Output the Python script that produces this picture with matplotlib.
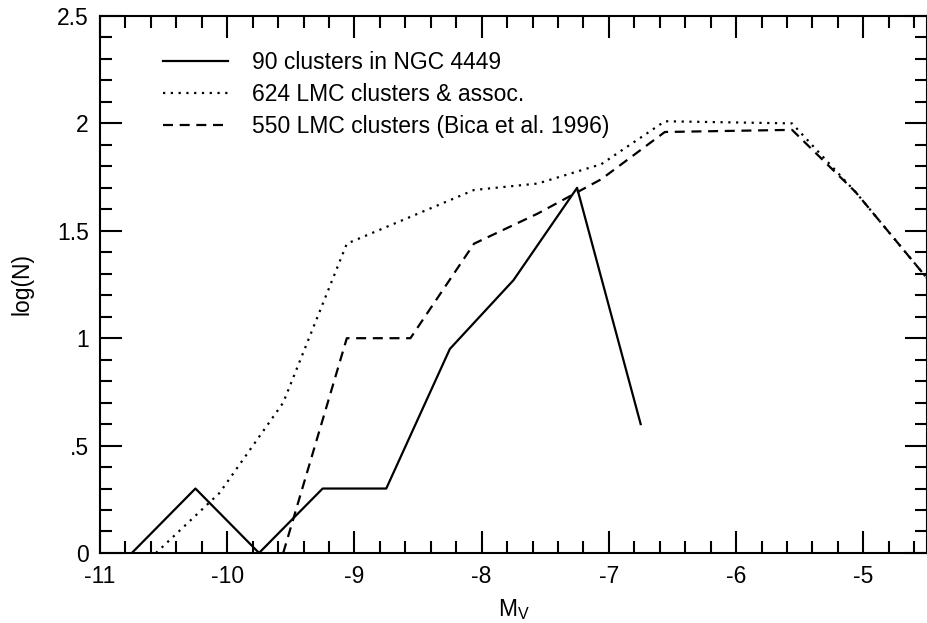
import matplotlib
matplotlib.use("Agg")
import matplotlib.pyplot as plt
from matplotlib.ticker import MultipleLocator, FixedLocator, FixedFormatter

plt.rcParams['font.family'] = ['Liberation Sans', 'DejaVu Sans']
plt.rcParams['mathtext.fontset'] = 'custom'
plt.rcParams['mathtext.rm'] = 'Liberation Sans'
plt.rcParams['axes.unicode_minus'] = False

# 90 clusters in NGC 4449
mv_ngc = [-10.75, -10.25, -9.75, -9.25, -8.75, -8.25, -7.75, -7.25, -6.75]
logn_ngc = [0.0, 0.30, 0.0, 0.30, 0.30, 0.95, 1.27, 1.70, 0.60]

# 624 LMC clusters & assoc.
mv_lmc_all = [-10.56, -10.06, -9.56, -9.06, -8.06, -7.56, -7.06, -6.56, -5.56, -5.06, -4.5]
logn_lmc_all = [0.0, 0.28, 0.70, 1.44, 1.69, 1.72, 1.81, 2.01, 2.0, 1.68, 1.28]

# 550 LMC clusters (Bica et al. 1996)
mv_bica = [-9.56, -9.06, -8.56, -8.06, -7.56, -7.06, -6.56, -5.56, -5.06, -4.5]
logn_bica = [0.0, 1.0, 1.0, 1.44, 1.58, 1.74, 1.96, 1.97, 1.68, 1.28]

fig = plt.figure(figsize=(9.28, 6.23), dpi=100)
ax = fig.add_axes([0.1078, 0.1124, 0.891, 0.8619])

ax.plot(mv_ngc, logn_ngc, color='black', lw=1.6, label='90 clusters in NGC 4449')
ax.plot(mv_lmc_all, logn_lmc_all, color='black', lw=1.6, linestyle=(0, (1, 2.5)),
        label='624 LMC clusters & assoc.')
ax.plot(mv_bica, logn_bica, color='black', lw=1.6, linestyle=(0, (4.5, 3)),
        label='550 LMC clusters (Bica et al. 1996)')

ax.set_xlim(-11, -4.5)
ax.set_ylim(0, 2.5)

ax.xaxis.set_major_locator(MultipleLocator(1))
ax.xaxis.set_minor_locator(MultipleLocator(0.2))
yt = [0, 0.5, 1, 1.5, 2, 2.5]
ax.yaxis.set_major_locator(FixedLocator(yt))
ax.yaxis.set_major_formatter(FixedFormatter(['0', '.5', '1', '1.5', '2', '2.5']))
ax.yaxis.set_minor_locator(MultipleLocator(0.1))

ax.tick_params(which='both', direction='in', top=True, right=True, width=1.5, labelsize=16.5)
ax.tick_params(which='major', length=16)
ax.tick_params(which='minor', length=8.5)
ax.tick_params(axis='x', which='major', pad=9)
ax.tick_params(axis='y', which='major', pad=8)
for s in ax.spines.values():
    s.set_linewidth(1.5)

ax.set_xlabel(r'M$_\mathrm{V}$', fontsize=16.5, labelpad=6)
ax.set_ylabel('log(N)', fontsize=16.5, labelpad=17)

ax.legend(loc='upper left', bbox_to_anchor=(0.076, 0.934), frameon=False, fontsize=16.5,
          handlelength=2.84, handletextpad=1.05, labelspacing=0.38,
          borderpad=0, borderaxespad=0)

fig.savefig('out.png', dpi=100)
